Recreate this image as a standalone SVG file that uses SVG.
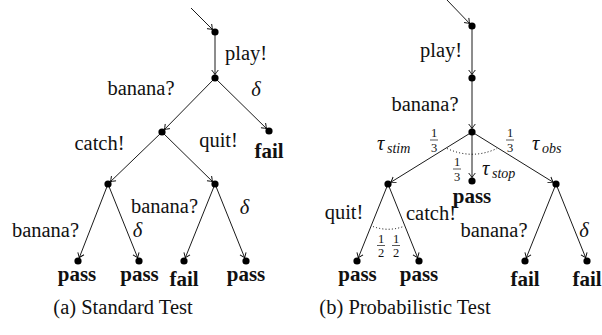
<svg xmlns="http://www.w3.org/2000/svg" width="602" height="335" viewBox="0 0 602 335">
<defs>
<marker id="to" markerUnits="userSpaceOnUse" markerWidth="12" markerHeight="12" refX="0" refY="0" viewBox="-6 -6 12 12" orient="auto" overflow="visible">
<path d="M -4.5,-3.3 Q -1.2,-0.8 0,0 Q -1.2,0.8 -4.5,3.3" fill="none" stroke="#000" stroke-width="0.9"/>
</marker>
<style>
.e{stroke:#000;stroke-width:0.9;fill:none;marker-end:url(#to)}
.d{stroke:#000;stroke-width:1;fill:none;stroke-dasharray:1 2.2}
.n{fill:#000}
.t{font-size:20.5px}
.b{font-size:21px;font-weight:bold;text-anchor:middle}
.i{font-size:20.5px;font-style:italic}
.s{font-size:14px;font-style:italic}
.f{font-size:12.5px;text-anchor:middle}
.m{text-anchor:middle}
.fb{stroke:#111;stroke-width:0.7}
</style>
</defs>
<rect width="602" height="335" fill="#fff"/>
<g font-family="Liberation Serif, DejaVu Serif, serif" fill="#111">

<!-- connectors -->
<g id="connectors">
<line class="e" x1="191" y1="8" x2="212.5" y2="29.5"/>
<line class="e" x1="215" y1="32" x2="215" y2="74.5"/>
<line class="e" x1="215" y1="78" x2="164.45" y2="129.5"/>
<line class="e" x1="215" y1="78" x2="266.5" y2="128.55"/>
<line class="e" x1="162" y1="132" x2="110.52" y2="181.57"/>
<line class="e" x1="162" y1="132" x2="212.5" y2="181.55"/>
<line class="e" x1="108" y1="184" x2="79.27" y2="257.74"/>
<line class="e" x1="108" y1="184" x2="137.69" y2="257.75"/>
<line class="e" x1="215" y1="184" x2="185.31" y2="257.75"/>
<line class="e" x1="215" y1="184" x2="244.69" y2="257.75"/>

<line class="e" x1="447" y1="0" x2="469.57" y2="23.48"/>
<line class="e" x1="472" y1="26" x2="472" y2="74.5"/>
<line class="e" x1="472" y1="78" x2="472" y2="128.5"/>
<line class="e" x1="472" y1="132" x2="390.98" y2="182.16"/>
<line class="e" x1="472" y1="132" x2="472" y2="177.5"/>
<line class="e" x1="472" y1="132" x2="553.02" y2="182.16"/>
<line class="e" x1="388" y1="184" x2="358.31" y2="257.75"/>
<line class="e" x1="388" y1="184" x2="417.69" y2="257.75"/>
<line class="e" x1="556" y1="184" x2="526.31" y2="257.75"/>
<line class="e" x1="556" y1="184" x2="585.69" y2="257.75"/>

<path class="d" d="M 447,148.5 Q 472,160 497,148.5"/>
<path class="d" d="M 373,226.5 Q 388,232 403.5,226.5"/>

<g id="edge-labels">
<text class="t m" x="246" y="60">play!</text>
<text class="t m" x="141" y="95">banana?</text>
<text class="i m" x="256" y="96">δ</text>
<text class="t m" x="99.5" y="150">catch!</text>
<text class="t m" x="218.5" y="147">quit!</text>
<text class="t m" x="164.5" y="213">banana?</text>
<text class="i m" x="244.5" y="214">δ</text>
<text class="t m" x="45.5" y="237">banana?</text>
<text class="i m" x="137.5" y="237">δ</text>

<text class="t m" x="441" y="57">play!</text>
<text class="t m" x="425" y="111">banana?</text>
<text class="i" x="377" y="150">τ</text><text class="s" x="387" y="153">stim</text>
<text class="i" x="532" y="150">τ</text><text class="s" x="542" y="153">obs</text>
<text class="i" x="482" y="175">τ</text><text class="s" x="492" y="178">stop</text>
<g id="frac-left"><text class="f" x="434" y="137">1</text><line class="fb" x1="430" y1="140" x2="438" y2="140"/><text class="f" x="434" y="151.5">3</text></g>
<g id="frac-right"><text class="f" x="510" y="137">1</text><line class="fb" x1="506" y1="140" x2="514" y2="140"/><text class="f" x="510" y="151.5">3</text></g>
<g id="frac-mid"><text class="f" x="457" y="166">1</text><line class="fb" x1="453" y1="169" x2="461" y2="169"/><text class="f" x="457" y="180.5">3</text></g>
<text class="t m" x="344" y="219">quit!</text>
<text class="t m" x="431" y="220">catch!</text>
<g id="frac-half-l"><text class="f" x="381" y="242.5">1</text><line class="fb" x1="377" y1="245.5" x2="385" y2="245.5"/><text class="f" x="381" y="257">2</text></g>
<g id="frac-half-r"><text class="f" x="396" y="242.5">1</text><line class="fb" x1="392" y1="245.5" x2="400" y2="245.5"/><text class="f" x="396" y="257">2</text></g>
<text class="t m" x="494" y="237">banana?</text>
<text class="i m" x="584" y="237">δ</text>
</g>
</g>

<!-- nodes: standard test -->
<g id="a-n0"><circle class="n" cx="215" cy="32" r="3.6"/></g>
<g id="a-n1"><circle class="n" cx="215" cy="78" r="3.6"/></g>
<g id="a-n2"><circle class="n" cx="162" cy="132" r="3.6"/></g>
<g id="a-fail1"><circle class="n" cx="269" cy="131" r="3.6"/><text class="b" x="269" y="158">fail</text></g>
<g id="a-n3"><circle class="n" cx="108" cy="184" r="3.6"/></g>
<g id="a-n4"><circle class="n" cx="215" cy="184" r="3.6"/></g>
<g id="a-pass1"><circle class="n" cx="78" cy="261" r="3.6"/><text class="b" x="77" y="281">pass</text></g>
<g id="a-pass2"><circle class="n" cx="139" cy="261" r="3.6"/><text class="b" x="139.5" y="281">pass</text></g>
<g id="a-fail2"><circle class="n" cx="184" cy="261" r="3.6"/><text class="b" x="184" y="286">fail</text></g>
<g id="a-pass3"><circle class="n" cx="246" cy="261" r="3.6"/><text class="b" x="246" y="281">pass</text></g>

<!-- nodes: probabilistic test -->
<g id="b-n0"><circle class="n" cx="472" cy="26" r="3.6"/></g>
<g id="b-n1"><circle class="n" cx="472" cy="78" r="3.6"/></g>
<g id="b-n2"><circle class="n" cx="472" cy="132" r="3.6"/></g>
<g id="b-stop"><circle class="n" cx="472" cy="181" r="3.6"/><text class="b" x="472" y="203">pass</text></g>
<g id="b-n3"><circle class="n" cx="388" cy="184" r="3.6"/></g>
<g id="b-n4"><circle class="n" cx="556" cy="184" r="3.6"/></g>
<g id="b-pass1"><circle class="n" cx="357" cy="261" r="3.6"/><text class="b" x="357.5" y="281">pass</text></g>
<g id="b-pass2"><circle class="n" cx="419" cy="261" r="3.6"/><text class="b" x="419" y="281">pass</text></g>
<g id="b-fail1"><circle class="n" cx="525" cy="261" r="3.6"/><text class="b" x="525" y="286">fail</text></g>
<g id="b-fail2"><circle class="n" cx="587" cy="261" r="3.6"/><text class="b" x="587" y="286">fail</text></g>

<g id="captions">
<text class="t m" x="123" y="314">(a) Standard Test</text>
<text class="t m" x="405" y="314">(b) Probabilistic Test</text>
</g>
</g>
</svg>
